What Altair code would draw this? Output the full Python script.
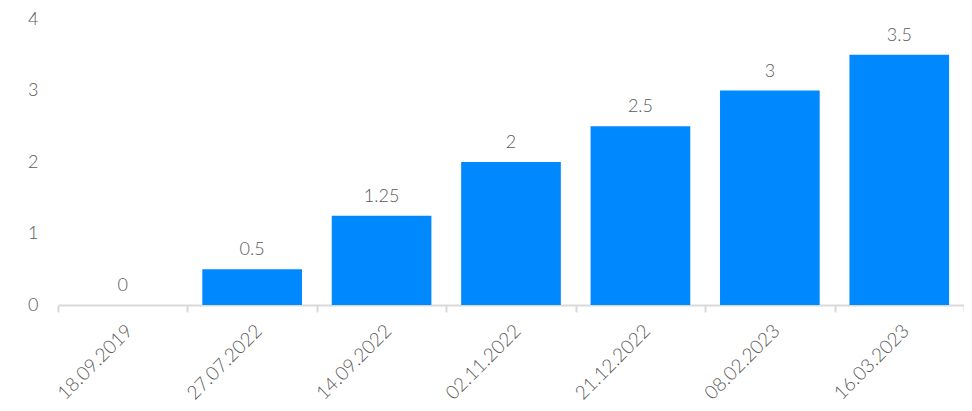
import altair as alt
import pandas as pd

dates = ["18.09.2019", "27.07.2022", "14.09.2022", "02.11.2022", "21.12.2022", "08.02.2023", "16.03.2023"]
values = [0, 0.5, 1.25, 2, 2.5, 3, 3.5]

df = pd.DataFrame({"date": dates, "value": values})

FONT = "Lato"
TXT = "#5a5a5a"
FS = 18

x = alt.X("date:N", sort=dates, title=None,
          scale=alt.Scale(paddingInner=0, paddingOuter=0),
          axis=alt.Axis(labelAngle=-45, labelFont=FONT, labelFontSize=19, labelColor=TXT,
                        labelFontWeight=300,
                        domainColor="#d9d9d9", domainWidth=2, tickColor="#d9d9d9", tickWidth=2,
                        tickSize=7, tickBand="extent", labelPadding=9, grid=False))
y = alt.Y("value:Q", title=None,
          scale=alt.Scale(domain=[0, 4], nice=False),
          axis=alt.Axis(values=[0, 1, 2, 3, 4], format="d", labelFont=FONT, labelFontSize=FS,
                        labelFontWeight=300, labelColor=TXT,
                        domain=False, ticks=False, grid=False, labelPadding=20))

bars = alt.Chart(df).mark_bar(color="#0088FF", width={"band": 0.77}).encode(x=x, y=y)
labels = alt.Chart(df).mark_text(baseline="bottom", dy=-10, font=FONT, fontSize=FS, fontWeight=300,
                                 color=TXT).encode(
    x=alt.X("date:N", sort=dates), y="value:Q", text=alt.Text("value:Q"))

chart = (bars + labels).properties(
    width=906, height=286,
    autosize=alt.AutoSizeParams(type="none"),
    padding={"left": 50, "top": 11, "right": 0, "bottom": 104},
).configure_view(stroke=None)

chart.save("out.html", embed_options={"renderer": "svg", "actions": False})
